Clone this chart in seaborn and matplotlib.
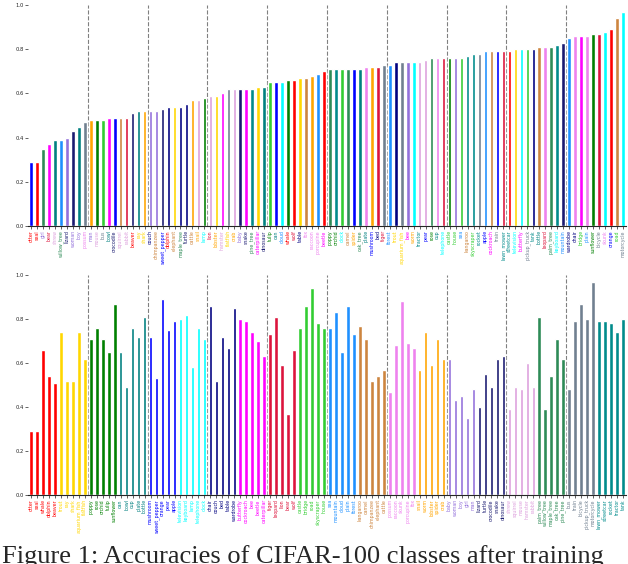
import matplotlib.pyplot as plt
import numpy as np
import pandas as pd
import seaborn as sns

# per-superclass colours (bottom panel order)
superclass_colors = [
    "red", "gold", "green", "teal", "blue",
    "cyan", "navy", "magenta", "crimson", "limegreen",
    "dodgerblue", "peru", "violet", "orange", "mediumpurple",
    "midnightblue", "plum", "seagreen", "slategray", "darkcyan",
]

class_names = [
    ["otter", "seal", "whale", "dolphin", "beaver"],
    ["trout", "ray", "shark", "aquarium_fish", "flatfish"],
    ["poppy", "rose", "orchid", "tulip", "sunflower"],
    ["can", "bowl", "cup", "plate", "bottle"],
    ["mushroom", "sweet_pepper", "orange", "pear", "apple"],
    ["television", "keyboard", "lamp", "telephone", "clock"],
    ["chair", "couch", "bed", "table", "wardrobe"],
    ["butterfly", "cockroach", "bee", "beetle", "caterpillar"],
    ["tiger", "leopard", "lion", "bear", "wolf"],
    ["castle", "bridge", "road", "skyscraper", "house"],
    ["sea", "mountain", "cloud", "plain", "forest"],
    ["kangaroo", "camel", "chimpanzee", "elephant", "cattle"],
    ["possum", "raccoon", "skunk", "porcupine", "fox"],
    ["snail", "worm", "lobster", "spider", "crab"],
    ["baby", "woman", "boy", "girl", "man"],
    ["lizard", "turtle", "crocodile", "snake", "dinosaur"],
    ["shrew", "squirrel", "mouse", "hamster", "rabbit"],
    ["palm_tree", "willow_tree", "maple_tree", "oak_tree", "pine_tree"],
    ["bus", "train", "bicycle", "pickup_truck", "motorcycle"],
    ["lawn_mower", "streetcar", "rocket", "tractor", "tank"],
]

accuracies = [
    [0.29, 0.29, 0.66, 0.54, 0.51],
    [0.74, 0.52, 0.52, 0.74, 0.62],
    [0.71, 0.76, 0.71, 0.65, 0.87],
    [0.65, 0.49, 0.76, 0.72, 0.81],
    [0.72, 0.53, 0.89, 0.75, 0.79],
    [0.80, 0.82, 0.58, 0.76, 0.71],
    [0.86, 0.52, 0.72, 0.67, 0.85],
    [0.80, 0.79, 0.74, 0.70, 0.63],
    [0.73, 0.81, 0.59, 0.37, 0.66],
    [0.76, 0.86, 0.94, 0.78, 0.76],
    [0.76, 0.83, 0.65, 0.86, 0.73],
    [0.77, 0.71, 0.52, 0.54, 0.57],
    [0.47, 0.68, 0.88, 0.69, 0.67],
    [0.57, 0.74, 0.59, 0.71, 0.62],
    [0.62, 0.43, 0.45, 0.35, 0.48],
    [0.40, 0.55, 0.49, 0.62, 0.63],
    [0.39, 0.49, 0.48, 0.60, 0.49],
    [0.81, 0.39, 0.54, 0.71, 0.62],
    [0.48, 0.79, 0.87, 0.80, 0.97],
    [0.79, 0.79, 0.78, 0.74, 0.80],
]

# bar colours of the sorted (top) panel, left to right
sorted_bar_colors = [
    "blue", "red", "seagreen", "magenta", "teal", "dodgerblue", "mediumpurple", "midnightblue", "teal", "slategray",
    "orange", "green", "limegreen", "magenta", "blue", "peru", "crimson", "midnightblue", "teal", "orange",
    "mediumpurple", "mediumpurple", "midnightblue", "navy", "gold", "navy", "navy", "orange", "plum", "green",
    "plum", "gold", "magenta", "slategray", "plum", "midnightblue", "magenta", "darkcyan", "gold", "teal",
    "limegreen", "blue", "cyan", "green", "red", "gold", "peru", "orange", "dodgerblue", "red",
    "seagreen", "darkcyan", "limegreen", "seagreen", "blue", "teal", "violet", "orange", "crimson", "slategray",
    "dodgerblue", "navy", "slategray", "mediumpurple", "cyan", "plum", "plum", "seagreen", "violet", "crimson",
    "green", "mediumpurple", "limegreen", "darkcyan", "darkcyan", "slategray", "dodgerblue", "peru", "blue", "crimson",
    "red", "gold", "cyan", "limegreen", "navy", "peru", "violet", "seagreen", "darkcyan", "midnightblue",
    "dodgerblue", "violet", "magenta", "violet", "green", "crimson", "cyan", "red", "peru", "cyan",
]

df = pd.DataFrame({
    "name": [n for group in class_names for n in group],
    "acc": [a for group in accuracies for a in group],
    "color": [c for c, group in zip(superclass_colors, class_names) for _ in group],
})
df_sorted = df.iloc[np.argsort(df["acc"].to_numpy(), kind="stable")].reset_index(drop=True)
df_sorted["bar_color"] = sorted_bar_colors

sns.set_style("ticks")
fig = plt.figure(figsize=(6.28, 5.64), dpi=100)
ax_top = fig.add_axes([28 / 628, 1 - 226 / 564, 598 / 628, 221 / 564])
ax_bot = fig.add_axes([28 / 628, 1 - 495 / 564, 598 / 628, 220 / 564])


def draw(ax, data, bar_colors):
    sns.barplot(
        data=data, x="name", y="acc", hue="name", order=list(data["name"]),
        palette=dict(zip(data["name"], bar_colors)), saturation=1, width=0.6,
        legend=False, ax=ax,
    )
    for x in np.arange(9.5, 99, 10):
        ax.axvline(x, color="gray", ls="--", lw=0.8, zorder=0)
    ax.set_xlim(-0.5, 99.5)
    ax.set_ylim(0, 1.0)
    ax.set_yticks([0.0, 0.2, 0.4, 0.6, 0.8, 1.0])
    ax.set_xlabel("")
    ax.set_ylabel("")
    for side in ["top", "right", "left"]:
        ax.spines[side].set_visible(False)
    ax.spines["bottom"].set_linewidth(0.8)
    ax.tick_params(axis="y", labelsize=3.8, length=2, width=0.5, pad=1)
    ax.tick_params(axis="x", labelsize=3.4, length=2, width=0.5, pad=1, labelrotation=90)
    for lbl, c in zip(ax.get_xticklabels(), data["color"]):
        lbl.set_color(c)


draw(ax_top, df_sorted, df_sorted["bar_color"])
draw(ax_bot, df, df["color"])

fig.text(0.003, 1 - 545 / 564, "Figure 1: Accuracies of CIFAR-100 classes after training",
         family="Liberation Serif", fontsize=19, va="top")

fig.savefig("out.png", dpi=100)
